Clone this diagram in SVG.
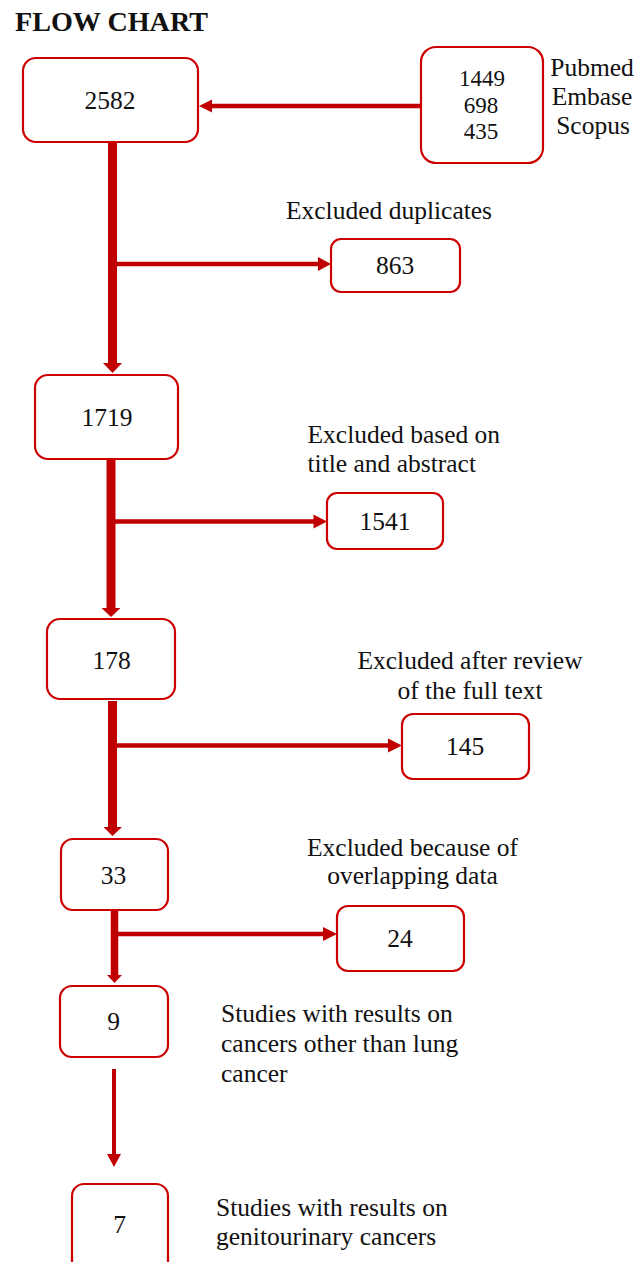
<svg xmlns="http://www.w3.org/2000/svg" width="636" height="1262" viewBox="0 0 636 1262">
<style>
.box{fill:#ffffff;stroke:#cc0000;stroke-width:2.2}
.t{font-family:"Liberation Serif","Times New Roman",serif;font-size:25.5px;fill:#111}
.s{font-size:23px}
.c{text-anchor:middle}
.ln{stroke:#c00000;fill:none}
.hd{fill:#c00000}
</style>
<rect width="636" height="1262" fill="#ffffff"/>
<text x="15" y="31" font-family="Liberation Serif, Times New Roman, serif" font-weight="bold" font-size="27" fill="#111" textLength="193" lengthAdjust="spacingAndGlyphs">FLOW CHART</text>

<g id="connectors">
  <line class="ln" x1="421" y1="106" x2="211" y2="106" stroke-width="4.5"/>
  <polygon class="hd" points="199,106 212,99.5 212,112.5"/>

  <line class="ln" x1="112.5" y1="142" x2="112.5" y2="364" stroke-width="9"/>
  <polygon class="hd" points="103,363 122,363 112.5,373"/>
  <line class="ln" x1="117" y1="264" x2="319" y2="264" stroke-width="4.5"/>
  <polygon class="hd" points="318,257 318,271 331,264"/>

  <line class="ln" x1="111" y1="459" x2="111" y2="609" stroke-width="9"/>
  <polygon class="hd" points="101.5,608 120.5,608 111,617"/>
  <line class="ln" x1="115" y1="521.5" x2="314" y2="521.5" stroke-width="4.5"/>
  <polygon class="hd" points="313.5,514.5 313.5,528.5 327,521.5"/>

  <line class="ln" x1="112.5" y1="701" x2="112.5" y2="828" stroke-width="9"/>
  <polygon class="hd" points="103.5,827 122,827 112.5,836"/>
  <line class="ln" x1="117" y1="745.5" x2="389" y2="745.5" stroke-width="4.5"/>
  <polygon class="hd" points="388,738.5 388,752.5 402,745.5"/>

  <line class="ln" x1="114.5" y1="910" x2="114.5" y2="976" stroke-width="7.5"/>
  <polygon class="hd" points="107,975 122,975 114.5,983"/>
  <line class="ln" x1="118" y1="934" x2="324" y2="934" stroke-width="4.5"/>
  <polygon class="hd" points="323,927 323,941 337,934"/>

  <line class="ln" x1="114" y1="1069" x2="114" y2="1155" stroke-width="4"/>
  <polygon class="hd" points="107,1154 121,1154 114,1167"/>
</g>

<g id="n2582">
  <rect class="box" x="23" y="58" width="175" height="84" rx="13"/>
  <text class="t c" x="110" y="109">2582</text>
</g>
<g id="nsources">
  <rect class="box" x="421" y="47" width="122" height="116" rx="15"/>
  <text class="t s c" x="482" y="86">1449</text>
  <text class="t s c" x="481" y="112.5">698</text>
  <text class="t s c" x="481" y="139">435</text>
  <text class="t c" x="592" y="76">Pubmed</text>
  <text class="t c" x="592" y="105">Embase</text>
  <text class="t c" x="593" y="134">Scopus</text>
</g>
<g id="n863">
  <text class="t c" x="389" y="219">Excluded duplicates</text>
  <rect class="box" x="331" y="239" width="129" height="53" rx="10"/>
  <text class="t c" x="395" y="274">863</text>
</g>
<g id="n1719">
  <rect class="box" x="35" y="375" width="143" height="84" rx="13"/>
  <text class="t c" x="107" y="426">1719</text>
</g>
<g id="n1541">
  <text class="t" x="307.5" y="443">Excluded based on</text>
  <text class="t" x="307.5" y="472">title and abstract</text>
  <rect class="box" x="327" y="493" width="116" height="56" rx="10"/>
  <text class="t c" x="385" y="530">1541</text>
</g>
<g id="n178">
  <rect class="box" x="47" y="619" width="128" height="80" rx="13"/>
  <text class="t c" x="111.5" y="669">178</text>
</g>
<g id="n145">
  <text class="t c" x="470" y="669">Excluded after review</text>
  <text class="t c" x="470" y="699">of the full text</text>
  <rect class="box" x="402" y="714" width="127" height="65" rx="11"/>
  <text class="t c" x="465" y="755">145</text>
</g>
<g id="n33">
  <rect class="box" x="61" y="839" width="107" height="71" rx="12"/>
  <text class="t c" x="113.5" y="884">33</text>
</g>
<g id="n24">
  <text class="t c" x="412.5" y="856">Excluded because of</text>
  <text class="t c" x="412.5" y="884">overlapping data</text>
  <rect class="box" x="337" y="906" width="127" height="65" rx="11"/>
  <text class="t c" x="400" y="947">24</text>
</g>
<g id="n9">
  <rect class="box" x="60" y="986" width="108" height="71" rx="12"/>
  <text class="t c" x="113.5" y="1030">9</text>
  <text class="t" x="221" y="1022">Studies with results on</text>
  <text class="t" x="221" y="1052">cancers other than lung</text>
  <text class="t" x="221" y="1082">cancer</text>
</g>
<g id="n7">
  <rect class="box" x="72" y="1184" width="96" height="100" rx="12"/>
  <text class="t c" x="119.5" y="1233">7</text>
  <text class="t" x="216" y="1216">Studies with results on</text>
  <text class="t" x="216" y="1245">genitourinary cancers</text>
</g>
</svg>
